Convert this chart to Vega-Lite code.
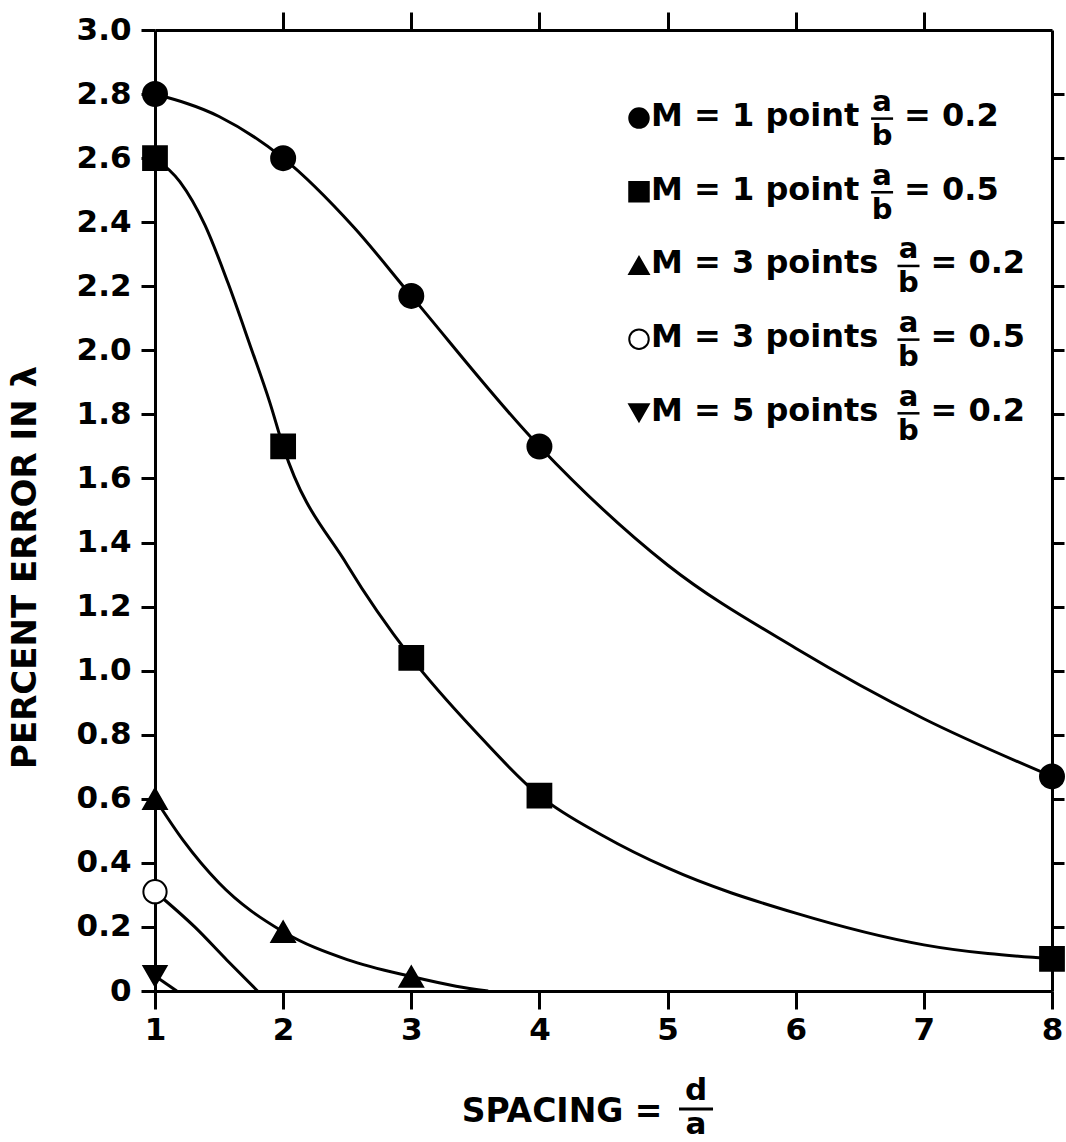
{
  "$schema": "https://vega.github.io/schema/vega-lite/v6.json",
  "width": 897,
  "height": 961,
  "autosize": "none",
  "padding": {"left": 155, "top": 30, "right": 14, "bottom": 151},
  "background": "white",
  "config": {
    "view": {"stroke": null},
    "font": "DejaVu Sans",
    "axis": {
      "domainColor": "black", "domainWidth": 3, "tickColor": "black", "tickWidth": 3,
      "labelColor": "black", "labelFont": "DejaVu Sans", "labelFontWeight": "bold", "labelFontSize": 31,
      "titleFont": "DejaVu Sans", "titleFontWeight": "bold", "titleFontSize": 33, "titleColor": "black",
      "grid": false, "labelFlush": false
    }
  },
  "datasets": {
    "curves": [
      {"series": "M=1, a/b=0.2", "x": 1, "y": 2.8},
      {"series": "M=1, a/b=0.2", "x": 1.5, "y": 2.73},
      {"series": "M=1, a/b=0.2", "x": 2, "y": 2.6},
      {"series": "M=1, a/b=0.2", "x": 2.55, "y": 2.385},
      {"series": "M=1, a/b=0.2", "x": 3, "y": 2.17},
      {"series": "M=1, a/b=0.2", "x": 4, "y": 1.7},
      {"series": "M=1, a/b=0.2", "x": 5, "y": 1.33},
      {"series": "M=1, a/b=0.2", "x": 6, "y": 1.07},
      {"series": "M=1, a/b=0.2", "x": 7, "y": 0.85},
      {"series": "M=1, a/b=0.2", "x": 8, "y": 0.67},
      {"series": "M=1, a/b=0.5", "x": 1, "y": 2.6},
      {"series": "M=1, a/b=0.5", "x": 1.195, "y": 2.526},
      {"series": "M=1, a/b=0.5", "x": 1.39, "y": 2.391},
      {"series": "M=1, a/b=0.5", "x": 1.57, "y": 2.21},
      {"series": "M=1, a/b=0.5", "x": 1.741, "y": 2.017},
      {"series": "M=1, a/b=0.5", "x": 1.897, "y": 1.836},
      {"series": "M=1, a/b=0.5", "x": 2, "y": 1.7},
      {"series": "M=1, a/b=0.5", "x": 2.5, "y": 1.33},
      {"series": "M=1, a/b=0.5", "x": 3, "y": 1.04},
      {"series": "M=1, a/b=0.5", "x": 3.5, "y": 0.81},
      {"series": "M=1, a/b=0.5", "x": 4, "y": 0.61},
      {"series": "M=1, a/b=0.5", "x": 4.5, "y": 0.484},
      {"series": "M=1, a/b=0.5", "x": 5, "y": 0.384},
      {"series": "M=1, a/b=0.5", "x": 6, "y": 0.243},
      {"series": "M=1, a/b=0.5", "x": 7, "y": 0.144},
      {"series": "M=1, a/b=0.5", "x": 8, "y": 0.1},
      {"series": "M=3, a/b=0.2", "x": 1, "y": 0.6},
      {"series": "M=3, a/b=0.2", "x": 1.22, "y": 0.47},
      {"series": "M=3, a/b=0.2", "x": 1.5, "y": 0.337},
      {"series": "M=3, a/b=0.2", "x": 2, "y": 0.185},
      {"series": "M=3, a/b=0.2", "x": 2.5, "y": 0.098},
      {"series": "M=3, a/b=0.2", "x": 3, "y": 0.045},
      {"series": "M=3, a/b=0.2", "x": 3.35, "y": 0.015},
      {"series": "M=3, a/b=0.2", "x": 3.6, "y": 0},
      {"series": "M=3, a/b=0.5", "x": 1, "y": 0.31},
      {"series": "M=3, a/b=0.5", "x": 1.31, "y": 0.2},
      {"series": "M=3, a/b=0.5", "x": 1.56, "y": 0.097},
      {"series": "M=3, a/b=0.5", "x": 1.8, "y": 0},
      {"series": "M=5, a/b=0.2", "x": 1, "y": 0.047},
      {"series": "M=5, a/b=0.2", "x": 1.17, "y": 0}
    ],
    "markers": [
      {"series": "M=1, a/b=0.2", "x": 1, "y": 2.8},
      {"series": "M=1, a/b=0.2", "x": 2, "y": 2.6},
      {"series": "M=1, a/b=0.2", "x": 3, "y": 2.17},
      {"series": "M=1, a/b=0.2", "x": 4, "y": 1.7},
      {"series": "M=1, a/b=0.2", "x": 8, "y": 0.67},
      {"series": "M=1, a/b=0.5", "x": 1, "y": 2.6},
      {"series": "M=1, a/b=0.5", "x": 2, "y": 1.7},
      {"series": "M=1, a/b=0.5", "x": 3, "y": 1.04},
      {"series": "M=1, a/b=0.5", "x": 4, "y": 0.61},
      {"series": "M=1, a/b=0.5", "x": 8, "y": 0.1},
      {"series": "M=3, a/b=0.2", "x": 1, "y": 0.6},
      {"series": "M=3, a/b=0.2", "x": 2, "y": 0.185},
      {"series": "M=3, a/b=0.2", "x": 3, "y": 0.045},
      {"series": "M=3, a/b=0.5", "x": 1, "y": 0.31},
      {"series": "M=5, a/b=0.2", "x": 1, "y": 0.047}
    ],
    "legend": [
      {"series": "M=1, a/b=0.2", "label": "M = 1 point", "val": "= 0.2", "y": 2.70, "fx": 6.674},
      {"series": "M=1, a/b=0.5", "label": "M = 1 point", "val": "= 0.5", "y": 2.47, "fx": 6.674},
      {"series": "M=3, a/b=0.2", "label": "M = 3 points", "val": "= 0.2", "y": 2.24, "fx": 6.88},
      {"series": "M=3, a/b=0.5", "label": "M = 3 points", "val": "= 0.5", "y": 2.01, "fx": 6.88},
      {"series": "M=5, a/b=0.2", "label": "M = 5 points", "val": "= 0.2", "y": 1.78, "fx": 6.88}
    ],
    "xfrac": [{"fx": 5.222, "y": -0.412}]
  },
  "layer": [
    {
      "data": {"name": "curves"},
      "mark": {"type": "line", "interpolate": "monotone", "strokeWidth": 3, "color": "black"},
      "encoding": {
        "x": {"field": "x", "type": "quantitative",
          "scale": {"domain": [1, 8], "nice": false, "zero": false},
          "axis": {"orient": "bottom", "values": [1, 2, 3, 4, 5, 6, 7, 8], "tickSize": 18, "labelPadding": 6,
            "title": "SPACING =", "titleX": 507, "titleY": 130, "titleAlign": "right", "titleBaseline": "alphabetic"}},
        "y": {"field": "y", "type": "quantitative",
          "scale": {"domain": [0, 3], "nice": false, "zero": false},
          "axis": {"orient": "left", "values": [0, 0.2, 0.4, 0.6, 0.8, 1, 1.2, 1.4, 1.6, 1.8, 2, 2.2, 2.4, 2.6, 2.8, 3],
            "tickSize": 14, "labelPadding": 10,
            "labelExpr": "datum.value == 0 ? '0' : format(datum.value, '.1f')",
            "title": "PERCENT ERROR IN λ", "titleX": -130, "titleY": 537, "titleAngle": 270,
            "titleAlign": "center", "titleBaseline": "middle", "titleFontSize": 34}},
        "detail": {"field": "series"}
      }
    },
    {
      "data": {"name": "markers"},
      "mark": {"type": "point", "filled": true, "stroke": "black", "strokeWidth": 2, "opacity": 1},
      "encoding": {
        "x": {"field": "x", "type": "quantitative",
          "axis": {"orient": "top", "values": [2, 3, 4, 5, 6, 7], "tickSize": 18, "labels": false, "title": null}},
        "y": {"field": "y", "type": "quantitative",
          "axis": {"orient": "right", "values": [0.2, 0.4, 0.6, 0.8, 1, 1.2, 1.4, 1.6, 1.8, 2, 2.2, 2.4, 2.6, 2.8], "tickSize": 12, "labels": false, "title": null}},
        "shape": {"field": "series", "type": "nominal",
          "scale": {"domain": ["M=1, a/b=0.2", "M=1, a/b=0.5", "M=3, a/b=0.2", "M=3, a/b=0.5", "M=5, a/b=0.2"],
                    "range": ["circle", "square", "triangle-up", "circle", "triangle-down"]}, "legend": null},
        "fill": {"field": "series", "type": "nominal",
          "scale": {"domain": ["M=1, a/b=0.2", "M=1, a/b=0.5", "M=3, a/b=0.2", "M=3, a/b=0.5", "M=5, a/b=0.2"],
                    "range": ["black", "black", "black", "white", "black"]}, "legend": null},
        "size": {"field": "series", "type": "ordinal",
          "scale": {"domain": ["M=1, a/b=0.2", "M=1, a/b=0.5", "M=3, a/b=0.2", "M=3, a/b=0.5", "M=5, a/b=0.2"],
                    "range": [576, 529, 900, 400, 900]}, "legend": null}
      }
    },
    {
      "data": {"name": "legend"},
      "mark": {"type": "point", "filled": true, "stroke": "black", "strokeWidth": 2, "size": 380, "yOffset": -8, "opacity": 1},
      "encoding": {
        "x": {"datum": 4.777, "type": "quantitative", "axis": null},
        "y": {"field": "y", "type": "quantitative", "axis": null},
        "shape": {"field": "series", "type": "nominal",
          "scale": {"domain": ["M=1, a/b=0.2", "M=1, a/b=0.5", "M=3, a/b=0.2", "M=3, a/b=0.5", "M=5, a/b=0.2"],
                    "range": ["circle", "square", "triangle-up", "circle", "triangle-down"]}, "legend": null},
        "fill": {"field": "series", "type": "nominal",
          "scale": {"domain": ["M=1, a/b=0.2", "M=1, a/b=0.5", "M=3, a/b=0.2", "M=3, a/b=0.5", "M=5, a/b=0.2"],
                    "range": ["black", "black", "black", "white", "black"]}, "legend": null}
      }
    },
    {
      "data": {"name": "legend"},
      "mark": {"type": "text", "align": "left", "baseline": "alphabetic", "font": "DejaVu Sans", "fontWeight": "bold", "fontSize": 32, "color": "black"},
      "encoding": {
        "x": {"datum": 4.871, "type": "quantitative", "axis": null},
        "y": {"field": "y", "type": "quantitative", "axis": null},
        "text": {"field": "label"}
      }
    },
    {
      "data": {"name": "legend"},
      "mark": {"type": "text", "align": "center", "baseline": "alphabetic", "dy": -15, "font": "DejaVu Sans", "fontWeight": "bold", "fontSize": 29, "color": "black"},
      "encoding": {
        "x": {"field": "fx", "type": "quantitative", "axis": null},
        "y": {"field": "y", "type": "quantitative", "axis": null},
        "text": {"value": "a"}
      }
    },
    {
      "data": {"name": "legend"},
      "mark": {"type": "text", "align": "center", "baseline": "alphabetic", "dy": 19, "font": "DejaVu Sans", "fontWeight": "bold", "fontSize": 29, "color": "black"},
      "encoding": {
        "x": {"field": "fx", "type": "quantitative", "axis": null},
        "y": {"field": "y", "type": "quantitative", "axis": null},
        "text": {"value": "b"}
      }
    },
    {
      "data": {"name": "legend"},
      "mark": {"type": "rule", "strokeWidth": 2.5, "color": "black", "xOffset": -11, "x2Offset": 11, "yOffset": -7.5},
      "encoding": {
        "x": {"field": "fx", "type": "quantitative", "axis": null},
        "x2": {"field": "fx"},
        "y": {"field": "y", "type": "quantitative", "axis": null}
      }
    },
    {
      "data": {"name": "legend"},
      "mark": {"type": "text", "align": "left", "baseline": "alphabetic", "dx": 22, "font": "DejaVu Sans", "fontWeight": "bold", "fontSize": 32, "color": "black"},
      "encoding": {
        "x": {"field": "fx", "type": "quantitative", "axis": null},
        "y": {"field": "y", "type": "quantitative", "axis": null},
        "text": {"field": "val"}
      }
    },
    {
      "data": {"name": "xfrac"},
      "mark": {"type": "text", "align": "center", "baseline": "alphabetic", "dy": -23, "font": "DejaVu Sans", "fontWeight": "bold", "fontSize": 31, "color": "black"},
      "encoding": {
        "x": {"field": "fx", "type": "quantitative", "axis": null},
        "y": {"field": "y", "type": "quantitative", "axis": null},
        "text": {"value": "d"}
      }
    },
    {
      "data": {"name": "xfrac"},
      "mark": {"type": "text", "align": "center", "baseline": "alphabetic", "dy": 11, "font": "DejaVu Sans", "fontWeight": "bold", "fontSize": 31, "color": "black"},
      "encoding": {
        "x": {"field": "fx", "type": "quantitative", "axis": null},
        "y": {"field": "y", "type": "quantitative", "axis": null},
        "text": {"value": "a"}
      }
    },
    {
      "data": {"name": "xfrac"},
      "mark": {"type": "rule", "strokeWidth": 3, "color": "black", "xOffset": -17, "x2Offset": 17, "yOffset": -14},
      "encoding": {
        "x": {"field": "fx", "type": "quantitative", "axis": null},
        "x2": {"field": "fx"},
        "y": {"field": "y", "type": "quantitative", "axis": null}
      }
    }
  ],
  "resolve": {"axis": {"x": "independent", "y": "independent"}}
}
